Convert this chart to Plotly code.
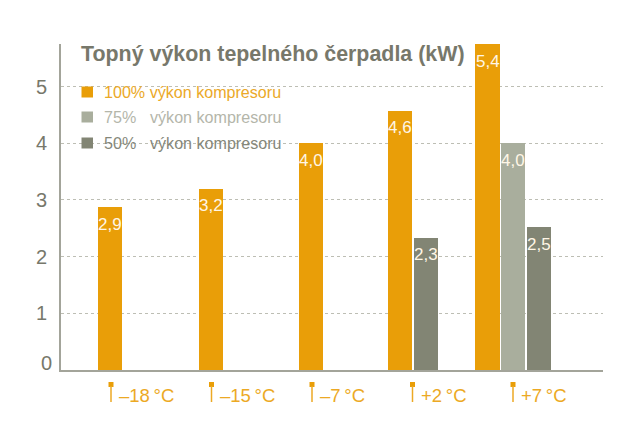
import plotly.graph_objects as go

categories = ["–18\u2009°C", "–15\u2009°C", "–7\u2009°C", "+2\u2009°C", "+7\u2009°C"]
s100 = [2.87, 3.2, 4.0, 4.57, 5.75]
s75 = [None, None, None, None, 4.0]
s50 = [None, None, None, 2.33, 2.52]
labels100 = ["2,9", "3,2", "4,0", "4,6", "5,4"]
labels75 = [None, None, None, None, "4,0"]
labels50 = [None, None, None, "2,3", "2,5"]
names = ["100%", "75%", "50%"]
legend_suffix = "výkon kompresoru"
title = "Topný výkon tepelného čerpadla (kW)"
y_ticks = [1, 2, 3, 4, 5]

ORANGE, LIGHT, DARK = "#e99e08", "#a9ae9d", "#828574"
TEXT = "#77786b"
FONT = "Liberation Sans"
PAGE = 8  # the page body's own margin
W, H = 640 - PAGE, 447 - 2 * PAGE
L, R, T, B = 61, 603, 44, 370
STEP = 100.5
PX = 1 / STEP
X0 = -50 * PX
YMAX = 5.75
BAR_W = 24.3 * PX

# centre of each bar relative to its category, in px
c100 = [-1, -0.3, -1.3, -12.2, -25.5]
c75 = [0, 0, 0, 0, 0.2]
c50 = [0, 0, 0, 13.2, 25.7]


def off(cs):
    return [c * PX - BAR_W / 2 for c in cs]


fig = go.Figure()
xs = list(range(len(categories)))
for vals, cs, col, nm in [(s100, c100, ORANGE, names[0]), (s75, c75, LIGHT, names[1]), (s50, c50, DARK, names[2])]:
    fig.add_bar(x=xs, y=vals, width=BAR_W, offset=off(cs), marker=dict(color=col, line_width=0), name=nm, showlegend=False)

ann = []
shapes = []


def px_x(p):
    return (p - L) / (R - L)


def px_y(p):
    return (B - p) / (B - T)


def text(x, y, s, size, color, anchor="left", **kw):
    ann.append(dict(x=x, y=y, xref="paper", yref="paper", text=s, showarrow=False, xanchor=anchor, yanchor="middle",
                    font=dict(family=FONT, size=size, color=color), xshift=0, yshift=0, borderpad=0, **kw))


# data labels
for vals, labs, cs in [(s100, labels100, c100), (s75, labels75, c75), (s50, labels50, c50)]:
    for i, (v, lab, c) in enumerate(zip(vals, labs, cs)):
        if lab:
            ann.append(dict(x=i + c * PX, y=v, xref="x", yref="y", text=lab, showarrow=False, yanchor="middle",
                            xanchor="center", yshift=-17, font=dict(family=FONT, size=17, color="#fff6e6")))

# title
text(px_x(79.5), px_y(54), f"<b>{title}</b>", 21.4, TEXT)

# legend mask over gridlines
shapes.append(dict(type="rect", xref="paper", yref="paper", x0=px_x(73), x1=px_x(291), y0=px_y(155), y1=px_y(75),
                   fillcolor="white", line_width=0, layer="between"))
for lab, col, tcol, yp in [(names[0], ORANGE, "#eba928", 92), (names[1], LIGHT, "#b4b6aa", 117), (names[2], DARK, "#85877a", 143)]:
    shapes.append(dict(type="rect", xref="paper", yref="paper", x0=px_x(81.5), x1=px_x(93), y0=px_y(yp + 5.5), y1=px_y(yp - 5.5),
                       fillcolor=col, line_width=0))
    if lab == names[0]:
        text(px_x(102.5), px_y(yp), f"{lab} {legend_suffix}", 16.1, tcol)
    else:
        text(px_x(102.5), px_y(yp), lab, 16.1, tcol)
        text(px_x(148.5), px_y(yp), legend_suffix, 16.1, tcol)

# thermometers + category labels
for i, cat in enumerate(categories):
    shapes.append(dict(type="rect", xref="x", yref="paper", x0=i - 2.5 * PX, x1=i + 2.5 * PX, y0=px_y(387), y1=px_y(382),
                       fillcolor=ORANGE, line_width=0))
    shapes.append(dict(type="line", xref="x", yref="paper", x0=i, x1=i, y0=px_y(402), y1=px_y(386),
                       line=dict(color="#eca924", width=1.5)))
    ann.append(dict(x=i + 6 * PX, y=px_y(395), xref="x", yref="paper", text=cat, showarrow=False, xanchor="left",
                    yanchor="middle", font=dict(family=FONT, size=18.5, color="#eca924")))

# zero label sits above the baseline
text(px_x(46.5), px_y(363), "0", 20, TEXT, anchor="center")

fig.update_layout(
    width=W, height=H, autosize=False,
    margin=dict(l=L - PAGE, r=W - (R - PAGE), t=T - PAGE, b=H - (B - PAGE)),
    paper_bgcolor="white", plot_bgcolor="white", showlegend=False, bargap=0,
    annotations=ann, shapes=shapes,
    xaxis=dict(type="linear", range=[X0, X0 + (R - L) * PX], showticklabels=False, ticks="", showgrid=False,
               zeroline=False, showline=True, linecolor="#a3a49a", linewidth=2, anchor="y"),
    yaxis=dict(range=[0, YMAX], tickmode="array", tickvals=y_ticks, ticktext=[str(t) for t in y_ticks], ticks="",
               ticklabelstandoff=8, tickfont=dict(family=FONT, size=20, color=TEXT),
               showgrid=True, gridcolor="#bdbeb4", griddash="3px,3px", gridwidth=1, zeroline=False,
               showline=True, linecolor="#a3a49a", linewidth=2),
)
fig.write_html("out.html", config=dict(displayModeBar=False))
